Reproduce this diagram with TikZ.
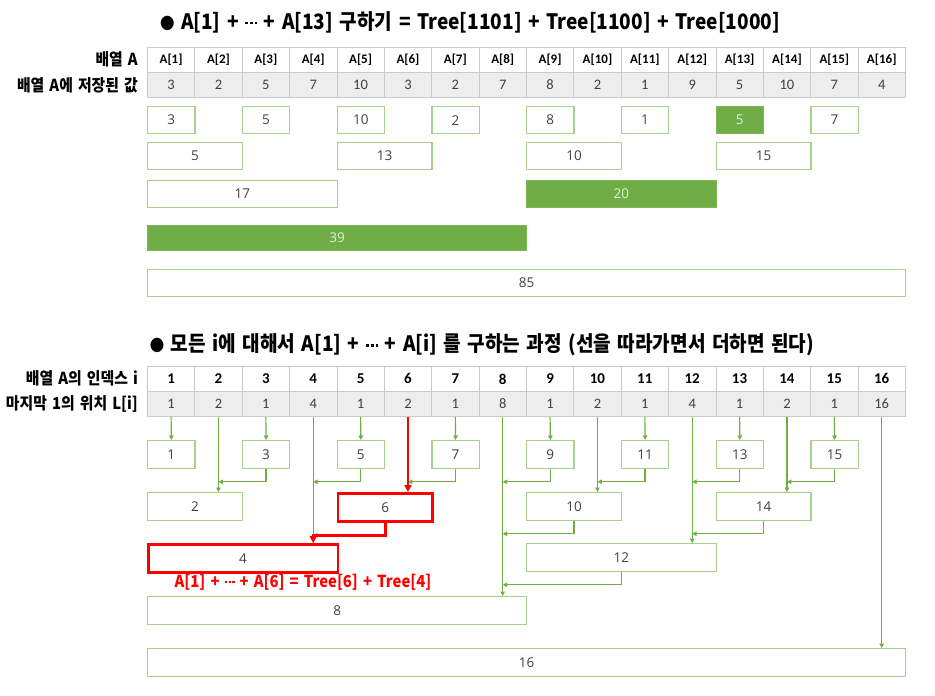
\documentclass[tikz,border=0pt]{standalone}
\usepackage{fontspec}
\setmainfont{Open Sans}
\newfontfamily\kr[FakeStretch=0.9,WordSpace=1.5]{Noto Sans CJK KR}
\newfontfamily\carl{Carlito}
\newcommand\cdts{\raisebox{5pt}{\rule{2.6pt}{2.6pt}\hspace{2.2pt}\rule{2.6pt}{2.6pt}\hspace{2.2pt}\rule{2.6pt}{2.6pt}}}
\newcommand\cdtsr{\raisebox{3.8pt}{\rule{2.1pt}{2.1pt}\hspace{1.8pt}\rule{2.1pt}{2.1pt}\hspace{1.8pt}\rule{2.1pt}{2.1pt}}}
\newcommand\blt{{\fontsize{16}{16}\selectfont ●}}
\usetikzlibrary{arrows.meta}
\definecolor{gline}{HTML}{70AD47}
\definecolor{gbord}{HTML}{A9D18E}
\definecolor{tgray}{HTML}{EDEDED}
\definecolor{tline}{HTML}{CACACA}
\definecolor{txt}{HTML}{404040}
\definecolor{gtxt}{HTML}{E2F0D9}
\tikzset{
  cell/.style={draw=tline, line width=0.8pt, minimum width=47.375pt, minimum height=25pt, inner sep=0pt, anchor=north west},
  hcell/.style={cell, fill=white, text=black, font=\carl\bfseries\fontsize{13}{13}\selectfont},
  ncell/.style={cell, fill=white, text=black, font=\carl\bfseries\fontsize{15}{15}\selectfont},
  vcell/.style={cell, fill=tgray, text=txt, font=\carl\fontsize{14.5}{14.5}\selectfont},
  box/.style={draw=gbord, line width=1.3pt, fill=white, inner sep=0pt, anchor=north west, text=txt, font=\fontsize{13.5}{13.5}\selectfont},
  gbox/.style={box, draw=gline!90, fill=gline, text=gtxt},
  rbox/.style={box, draw=red, line width=2.6pt},
  lab/.style={anchor=east, inner sep=0pt, font=\kr\bfseries\fontsize{16.5}{16.5}\selectfont},
  ttl/.style={font=\kr\bfseries\fontsize{21.2}{21.2}\selectfont},
  arr/.style={draw=gline, line width=1.2pt, -{Triangle[length=4.5pt,width=4.5pt]}},
  redarr/.style={draw=red, line width=2.8pt, -{Triangle[length=7pt,width=7pt]}},
}
\begin{document}
\begin{tikzpicture}[x=1pt,y=-1pt]
\useasboundingbox[fill=white] (0,0) rectangle (935,696);
% ---------- top part ----------
\node[ttl] (title1) at (470,22) {\blt\ A[1] + \cdts\ + A[13] 구하기 = Tree[1101] + Tree[1100] + Tree[1000]};
\node[lab] (l1) at (138,59) {배열 A};
\node[lab] (l2) at (138,85) {배열 A에 저장된 값};
\foreach \i [evaluate=\i as \x using {147+(\i-1)*47.375}] in {1,...,16}
  \node[hcell] (t1c\i) at (\x,47) {A[\i]};
\foreach \i/\v [evaluate=\i as \x using {147+(\i-1)*47.375}] in {1/3,2/2,3/5,4/7,5/10,6/3,7/2,8/7,9/8,10/2,11/1,12/9,13/5,14/10,15/7,16/4}
  \node[vcell] (t2c\i) at (\x,72) {\v};
\foreach \i/\L/\v/\s/\y/\h [evaluate=\i as \x using {147+(\i-\L)*47.375}, evaluate=\L as \w using {\L*47.375}] in
  {1/1/3/box/106/27, 3/1/5/box/106/27, 5/1/10/box/106/27, 7/1/2/box/106/27,
   9/1/8/box/106/27, 11/1/1/box/106/27, 13/1/5/gbox/106/27, 15/1/7/box/106/27,
   2/2/5/box/142/27, 6/2/13/box/142/27, 10/2/10/box/142/27, 14/2/15/box/142/27,
   4/4/17/box/180/27, 12/4/20/gbox/180/27, 8/8/39/gbox/225/25, 16/16/85/box/269/27}
  \node[\s, minimum width=\w pt, minimum height=\h pt] (u\i) at (\x,\y) {\v};
% ---------- bottom part ----------
\node[ttl] (title2) at (482,345) {\blt\ 모든 i에 대해서 A[1] + \cdts\ + A[i] 를 구하는 과정 (선을 따라가면서 더하면 된다)};
\node[lab] (l3) at (138,378) {배열 A의 인덱스 i};
\node[lab] (l4) at (138,404) {마지막 1의 위치 L[i]};
\foreach \i [evaluate=\i as \x using {147+(\i-1)*47.375}] in {1,...,16}
  \node[ncell] (r1c\i) at (\x,366) {\i};
\foreach \i/\v [evaluate=\i as \x using {147+(\i-1)*47.375}] in {1/1,2/2,3/1,4/4,5/1,6/2,7/1,8/8,9/1,10/2,11/1,12/4,13/1,14/2,15/1,16/16}
  \node[vcell] (r2c\i) at (\x,391) {\v};
\foreach \i/\L/\s/\y [evaluate=\i as \x using {147+(\i-\L)*47.375}, evaluate=\L as \w using {\L*47.375}] in
  {1/1/box/440, 3/1/box/440, 5/1/box/440, 7/1/box/440, 9/1/box/440, 11/1/box/440, 13/1/box/440, 15/1/box/440,
   2/2/box/492, 6/2/rbox/492, 10/2/box/492, 14/2/box/492,
   4/4/rbox/543, 12/4/box/543, 8/8/box/596, 16/16/box/648}
  \node[\s, minimum width=\w pt, minimum height=28pt] (b\i) at (\x,\y) {\i};
% vertical connectors
\foreach \i in {1,3,5,7,9,11,13,15}
  \draw[arr] (r2c\i.south) -- (b\i.north);
\foreach \i in {2,4,8,10,12,14,16}
  \draw[arr] (r2c\i.south) -- (r2c\i.south |- b\i.north);
% joins
\foreach \c/\p in {3/2,5/4,7/6,9/8,11/10,13/12,15/14,10/8,14/12,12/8,6/4}{
  \path (b\c.south) ++(0,12.5) coordinate (k\c);
  \draw[arr] (b\c.south) -- (k\c) -- (k\c -| r2c\p.south);
}
% red path
\draw[redarr] (r2c6.south) -- (r2c6.south |- b6.north);
\draw[redarr] (b6.south) -- (k6) -- (k6 -| r2c4.south) -- (r2c4.south |- b4.north);
\node[text=red, font=\kr\bfseries\fontsize{16.5}{16.5}\selectfont] (note) at (303,582) {A[1] + \cdtsr\ + A[6] = Tree[6] + Tree[4]};
\end{tikzpicture}
\end{document}
